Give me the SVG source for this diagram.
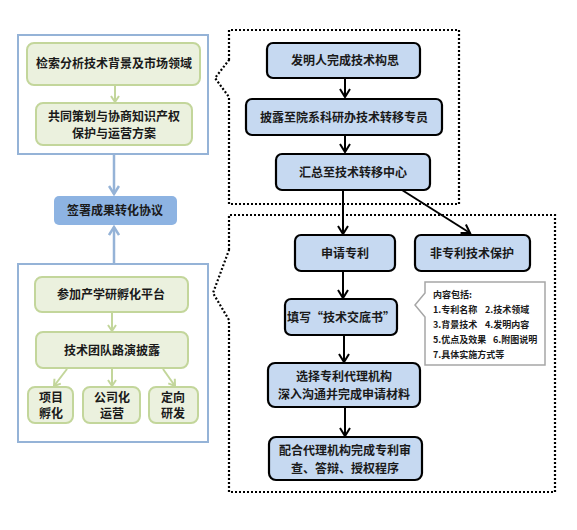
<svg xmlns="http://www.w3.org/2000/svg" width="577" height="530" viewBox="0 0 577 530">
<style>
text{font-family:"Noto Sans CJK SC","Liberation Sans",sans-serif;font-weight:bold;fill:#1a1a1a;text-anchor:middle;}
.t{font-size:12px;}
.s{font-size:9px;text-anchor:start;}
.panel{fill:#fff;stroke:#95b3d7;stroke-width:2;}
.g{fill:#ebf1de;stroke:#c3d69b;stroke-width:2;}
.b{fill:#c6d9f1;stroke:#000;stroke-width:2.2;}
.sign{fill:#8db3e2;stroke:none;}
.dot{fill:none;stroke:#000;stroke-width:2.2;stroke-dasharray:2 2;}
.ga{stroke:#c3d69b;stroke-width:2;fill:none;}
.ba{stroke:#95b3d7;stroke-width:2.5;fill:none;}
.ka{stroke:#000;stroke-width:2;fill:none;}
</style>
<defs>
<marker id="ag" markerWidth="10" markerHeight="10" refX="8" refY="5" orient="auto" markerUnits="userSpaceOnUse"><path d="M2,1 L8,5 L2,9" fill="none" stroke="#c3d69b" stroke-width="2"/></marker>
<marker id="ab" markerWidth="12" markerHeight="12" refX="10" refY="6" orient="auto" markerUnits="userSpaceOnUse"><path d="M2,1 L10,6 L2,11" fill="none" stroke="#95b3d7" stroke-width="2.5"/></marker>
<marker id="ak" markerWidth="12" markerHeight="12" refX="10" refY="6" orient="auto" markerUnits="userSpaceOnUse"><path d="M2,1 L10,6 L2,11" fill="none" stroke="#000" stroke-width="2"/></marker>
</defs>
<rect width="577" height="530" fill="#fff"/>
<g id="regions">
<path class="dot" d="M229,60 L229,30 L459,30 L459,204 L229,204 L229,97 L215,78 Z"/>
<path class="dot" d="M229,250 L229,215 L555,215 L555,492 L229,492 L229,320 L213,293 Z"/>
</g>
<g id="panel-top"><rect class="panel" x="18" y="35" width="190" height="119"/></g>
<g id="panel-bottom"><rect class="panel" x="18" y="264" width="190" height="178"/></g>
<g id="connectors">
<line class="ga" x1="115" y1="86" x2="115" y2="102" marker-end="url(#ag)"/>
<line class="ga" x1="112" y1="313" x2="112" y2="331" marker-end="url(#ag)"/>
<line class="ga" x1="67" y1="369" x2="54" y2="386" marker-end="url(#ag)"/>
<line class="ga" x1="112" y1="369" x2="112" y2="386" marker-end="url(#ag)"/>
<line class="ga" x1="163" y1="369" x2="175" y2="386" marker-end="url(#ag)"/>
<line class="ba" x1="114" y1="155" x2="114" y2="194" marker-end="url(#ab)"/>
<line class="ba" x1="114" y1="263" x2="114" y2="227" marker-end="url(#ab)"/>
<line class="ka" x1="345" y1="79" x2="345" y2="97" marker-end="url(#ak)"/>
<line class="ka" x1="345" y1="136" x2="345" y2="152" marker-end="url(#ak)"/>
<line class="ka" x1="343" y1="191" x2="343" y2="234" marker-end="url(#ak)"/>
<line class="ka" x1="402" y1="190" x2="470" y2="233" marker-end="url(#ak)"/>
<line class="ka" x1="343" y1="272" x2="343" y2="298" marker-end="url(#ak)"/>
<line class="ka" x1="344" y1="336" x2="344" y2="362" marker-end="url(#ak)"/>
<line class="ka" x1="345" y1="408" x2="345" y2="436" marker-end="url(#ak)"/>
</g>
<g id="n-search"><rect class="g" x="27" y="43" width="173" height="42" rx="7"/><text class="t" x="114" y="68">检索分析技术背景及市场领域</text></g>
<g id="n-plan"><rect class="g" x="36" y="103" width="156" height="42" rx="7"/><text class="t" x="114" y="121">共同策划与协商知识产权</text><text class="t" x="114" y="138">保护与运营方案</text></g>
<g id="n-sign"><rect class="sign" x="54" y="196" width="123" height="29" rx="5"/><text class="t" x="115" y="215">签署成果转化协议</text></g>
<g id="n-platform"><rect class="g" x="35" y="277" width="153" height="35" rx="7"/><text class="t" x="111" y="299">参加产学研孵化平台</text></g>
<g id="n-roadshow"><rect class="g" x="36" y="332" width="152" height="36" rx="7"/><text class="t" x="112" y="355">技术团队路演披露</text></g>
<g id="n-incubate"><rect class="g" x="28" y="387" width="45" height="36" rx="7"/><text class="t" x="51" y="402">项目</text><text class="t" x="51" y="418">孵化</text></g>
<g id="n-company"><rect class="g" x="83" y="387" width="57" height="36" rx="7"/><text class="t" x="112" y="402">公司化</text><text class="t" x="112" y="418">运营</text></g>
<g id="n-rd"><rect class="g" x="149" y="387" width="49" height="36" rx="7"/><text class="t" x="173" y="402">定向</text><text class="t" x="173" y="418">研发</text></g>
<g id="n-idea"><rect class="b" x="267" y="43" width="153" height="35" rx="6"/><text class="t" x="345" y="65">发明人完成技术构思</text></g>
<g id="n-disclose"><rect class="b" x="246" y="99" width="196" height="36" rx="6"/><text class="t" x="344" y="122">披露至院系科研办技术转移专员</text></g>
<g id="n-center"><rect class="b" x="276" y="154" width="154" height="36" rx="6"/><text class="t" x="353" y="177">汇总至技术转移中心</text></g>
<g id="n-apply"><rect class="b" x="295" y="235" width="100" height="36" rx="6"/><text class="t" x="345" y="258">申请专利</text></g>
<g id="n-nonpatent"><rect class="b" x="415" y="235" width="115" height="36" rx="6"/><text class="t" x="472" y="258">非专利技术保护</text></g>
<g id="n-fill"><rect class="b" x="285" y="299" width="112" height="36" rx="6"/><text class="t" x="341" y="322">填写“技术交底书”</text></g>
<g id="n-callout"><path d="M425,282 L545,282 L545,365 L425,365 L425,317 L415,305 L425,293 Z" fill="#fff" stroke="#a6a6a6" stroke-width="1.5"/>
<text class="s" x="433" y="298">内容包括:</text>
<text class="s" x="433" y="313">1.专利名称</text><text class="s" x="485" y="313">2.技术领域</text>
<text class="s" x="433" y="328">3.背景技术</text><text class="s" x="485" y="328">4.发明内容</text>
<text class="s" x="433" y="343">5.优点及效果</text><text class="s" x="493" y="343">6.附图说明</text>
<text class="s" x="433" y="358">7.具体实施方式等</text></g>
<g id="n-agency"><rect class="b" x="268" y="363" width="152" height="44" rx="7"/><text class="t" x="344" y="381">选择专利代理机构</text><text class="t" x="344" y="399">深入沟通并完成申请材料</text></g>
<g id="n-exam"><rect class="b" x="269" y="437" width="153" height="43" rx="7"/><text class="t" x="345" y="455">配合代理机构完成专利审</text><text class="t" x="345" y="473">查、答辩、授权程序</text></g>
</svg>
